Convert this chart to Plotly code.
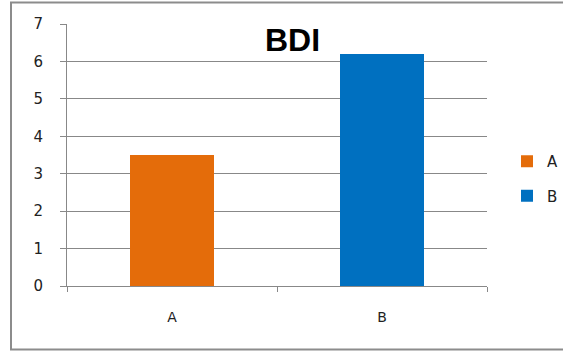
import plotly.graph_objects as go

categories = ["A", "B"]
values = [3.5, 6.2]
colors = ["#E46C0A", "#0070C0"]
y_ticks = [0, 1, 2, 3, 4, 5, 6, 7]

W, H = 563, 351
L, R, T, B = 67, 76, 24, 65
pw = W - L - R
ph = H - T - B

fig = go.Figure()
for i, (cat, val, col) in enumerate(zip(categories, values, colors)):
    fig.add_trace(go.Bar(
        x=[cat], y=[val], name=cat, marker=dict(color=col, line=dict(width=0)),
        legendgroup=cat, width=0.4,
    ))

def px_x(x):
    return (x - L) / pw

def px_y(y):
    return (H - B - y) / ph

fig.update_layout(
    width=W, height=H,
    margin=dict(l=L, r=R, t=T, b=B, autoexpand=False),
    paper_bgcolor="white", plot_bgcolor="white",
    barmode="overlay",
    showlegend=True,
    legend=dict(
        x=px_x(507), y=px_y(145), xanchor="left", yanchor="top",
        font=dict(family="DejaVu Sans", size=15, color="#222"),
        tracegroupgap=12, bgcolor="rgba(0,0,0,0)",
    ),
    xaxis=dict(
        type="category", categoryorder="array", categoryarray=categories,
        range=[-0.5, 1.5],
        showgrid=False, showline=True, linecolor="#888", linewidth=1,
        ticks="outside", tickson="boundaries", ticklen=5, tickcolor="#888",
        tickfont=dict(family="DejaVu Sans", size=14, color="#222"),
        ticklabelstandoff=18,
    ),
    yaxis=dict(
        range=[0, 7], tickvals=y_ticks, showgrid=True, gridcolor="#888", gridwidth=1,
        showline=True, linecolor="#888", linewidth=1, zeroline=False,
        ticks="outside", ticklen=6, tickcolor="#888",
        tickfont=dict(family="DejaVu Sans", size=15, color="#222"),
        ticklabelstandoff=14,
    ),
    annotations=[dict(
        text="<b>BDI</b>", x=px_x(292.5), y=px_y(40), xref="paper", yref="paper",
        xanchor="center", yanchor="middle", showarrow=False,
        font=dict(family="Liberation Sans", size=32, color="black"),
    )],
    shapes=[dict(
        type="rect", xref="paper", yref="paper",
        x0=px_x(11), x1=px_x(575), y0=px_y(349.5), y1=px_y(2.5),
        line=dict(color="#8c8c8c", width=2), fillcolor="rgba(0,0,0,0)", layer="below",
    )],
)

fig.write_html("out.html")
